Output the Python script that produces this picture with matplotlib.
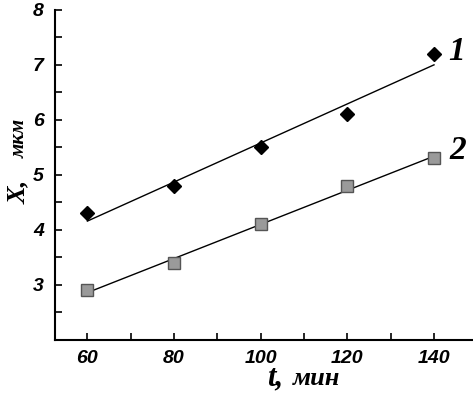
import numpy as np
import matplotlib
matplotlib.use("Agg")
import matplotlib.pyplot as plt
from matplotlib.ticker import MultipleLocator

t = [60, 80, 100, 120, 140]
x1 = [4.3, 4.8, 5.5, 6.1, 7.2]
x2 = [2.9, 3.4, 4.1, 4.8, 5.3]
xticks = [60, 80, 100, 120, 140]
yticks = [3, 4, 5, 6, 7, 8]

W, H = 473, 393
fig = plt.figure(figsize=(W / 100, H / 100), dpi=100)
ax = fig.add_axes([0.116, 0.135, 0.884, 0.84])

tt = np.array(t, float)
for y, m, fc, ec, ms in [(x1, 'D', 'black', 'black', 7), (x2, 's', '#9a9a9a', '#555555', 8)]:
    k, b = np.polyfit(tt, y, 1)
    ax.plot([tt[0], tt[-1]], [k * tt[0] + b, k * tt[-1] + b], color='black', lw=1.0)
    ax.plot(tt, y, ls='none', marker=m, ms=ms, mfc=fc, mec=ec, mew=1.0)

ax.set_xlim(52.5, 149)
ax.set_ylim(2, 8)
ax.set_xticks(xticks)
ax.set_yticks(yticks)
ax.xaxis.set_minor_locator(MultipleLocator(10))
ax.yaxis.set_minor_locator(MultipleLocator(0.5))
ax.tick_params(which='both', direction='in', width=1.2, length=5, top=False, right=False)
ax.tick_params(axis='x', pad=7)
ax.tick_params(axis='y', pad=8)
for s in ['top', 'right']:
    ax.spines[s].set_visible(False)
for s in ['left', 'bottom']:
    ax.spines[s].set_linewidth(1.5)

for lab in ax.get_xticklabels() + ax.get_yticklabels():
    lab.set_fontfamily('Liberation Sans')
    lab.set_fontweight('bold')
    lab.set_fontstyle('italic')
    lab.set_fontsize(14)

serif = dict(fontfamily='Liberation Serif', fontweight='bold', fontstyle='italic')

# x axis label
fig.text(283 / W, (H - 385) / H, 't,', fontsize=22, ha='right', va='baseline', **serif)
fig.text(293 / W, (H - 385) / H, 'мин', fontsize=19, ha='left', va='baseline', **serif)

# y axis label
fig.text(25 / W, (H - 180) / H, 'X,', fontsize=19, ha='right', va='baseline',
         rotation=90, rotation_mode='anchor', **serif)
fig.text(25 / W, (H - 158) / H, 'мкм', fontsize=15, ha='left', va='baseline',
         rotation=90, rotation_mode='anchor', **serif)

ax.text(145.3, 7.24, '1', fontsize=24, va='center', ha='center', **serif)
ax.text(145.5, 5.45, '2', fontsize=24, va='center', ha='center', **serif)

fig.savefig('out.png', dpi=100)
